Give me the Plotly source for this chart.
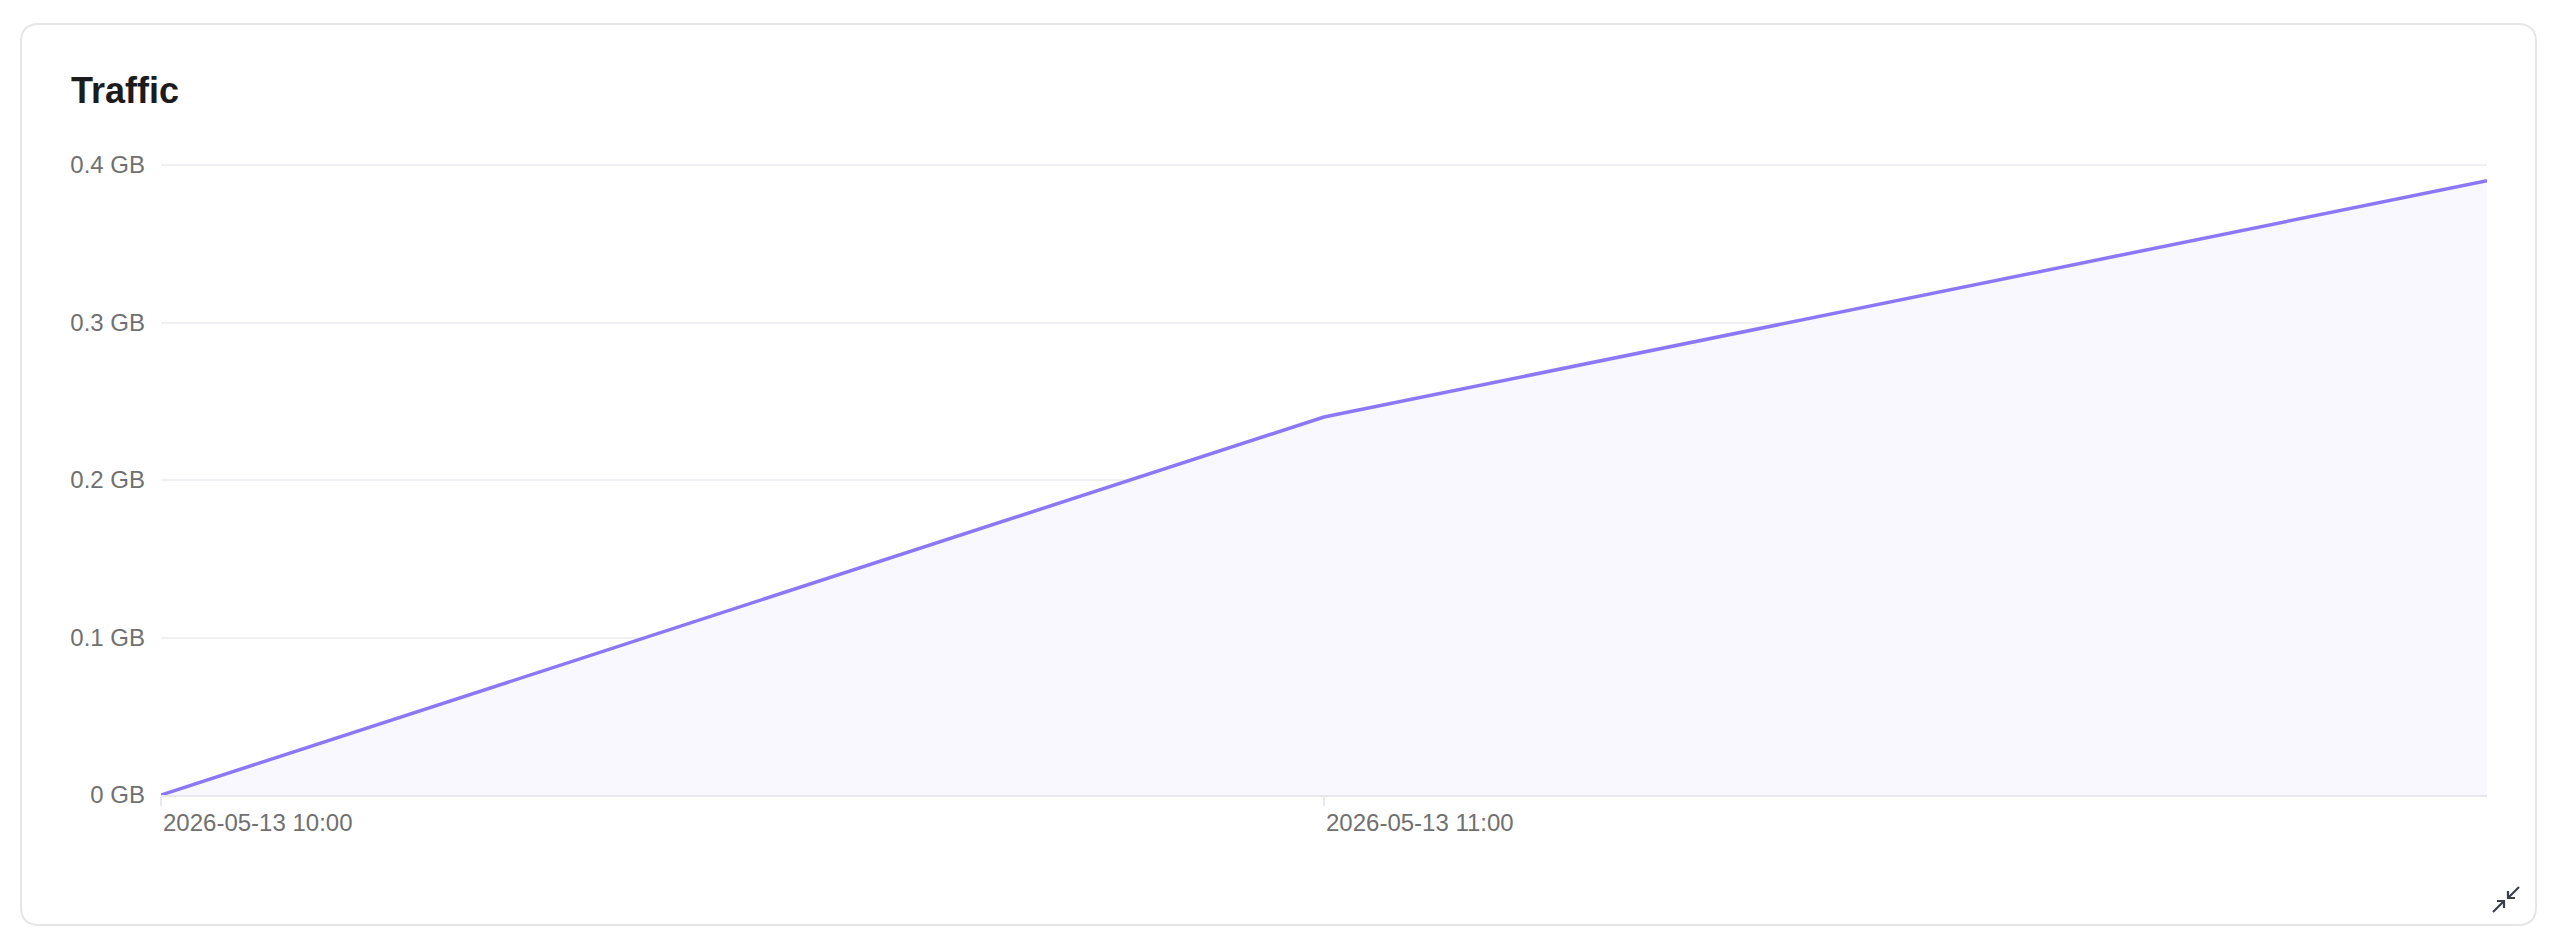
import plotly.graph_objects as go

# ---- data ----
times = ["2026-05-13 10:00", "2026-05-13 11:00", "2026-05-13 12:00"]
traffic_gb = [0.0, 0.240, 0.390]
x_tickvals = ["2026-05-13 10:00", "2026-05-13 11:00"]
y_tickvals = [0, 0.1, 0.2, 0.3, 0.4]
y_ticktext = ["0 GB", "0.1 GB", "0.2 GB", "0.3 GB", "0.4 GB"]
title_text = "Traffic"

W, H = 2556, 948
L, R, T, B = 161, 69, 160, 153
PW, PH = W - L - R, H - T - B
Y_TOP = 0.4 * PH / 630.0  # keeps 0.4 at ~630px above the baseline, leaves room for its gridline

def px(x):
    return (x - L) / PW

def py(y):
    return (H - B - y) / PH

def rounded_rect(x0, y0, x1, y1, r):
    pts = [
        f"M {px(x0 + r)} {py(y0)}",
        f"L {px(x1 - r)} {py(y0)}",
        f"Q {px(x1)} {py(y0)} {px(x1)} {py(y0 + r)}",
        f"L {px(x1)} {py(y1 - r)}",
        f"Q {px(x1)} {py(y1)} {px(x1 - r)} {py(y1)}",
        f"L {px(x0 + r)} {py(y1)}",
        f"Q {px(x0)} {py(y1)} {px(x0)} {py(y1 - r)}",
        f"L {px(x0)} {py(y0 + r)}",
        f"Q {px(x0)} {py(y0)} {px(x0 + r)} {py(y0)}",
        "Z",
    ]
    return " ".join(pts)

def polyline(points):
    return "M " + " L ".join(f"{px(a)} {py(b)}" for a, b in points)

fig = go.Figure()
fig.add_trace(go.Scatter(
    x=times, y=traffic_gb, mode="lines",
    line=dict(color="#8c78f6", width=3.5),
    fill="tozeroy", fillcolor="#f9f8fe",
    hoverinfo="skip", showlegend=False,
))

shapes = [
    dict(type="path", xref="paper", yref="paper", path=rounded_rect(21, 24, 2536, 925, 18),
         line=dict(color="#e6e6e6", width=2), fillcolor="rgba(0,0,0,0)", layer="below"),
]
icon_col = "#3a3f4a"
for pts in [
    [(2493, 912), (2504, 901)],
    [(2497, 901), (2504, 901), (2504, 908)],
    [(2519, 887), (2508, 898)],
    [(2508, 891), (2508, 898), (2515, 898)],
]:
    shapes.append(dict(type="path", xref="paper", yref="paper", path=polyline(pts),
                       line=dict(color=icon_col, width=2.2)))

fig.update_layout(
    width=W, height=H,
    margin=dict(l=L, r=R, t=T, b=B, pad=0),
    paper_bgcolor="white", plot_bgcolor="white",
    font=dict(family="Liberation Sans, Arial, sans-serif", size=24, color="#707070"),
    title=dict(text=f"<b>{title_text}</b>", x=71 / W, xanchor="left", xref="container",
               y=1 - 78 / H, yanchor="top", yref="container",
               font=dict(family="Liberation Sans, Arial, sans-serif", size=36, color="#1c1c1c")),
    shapes=shapes,
    showlegend=False,
    xaxis=dict(
        type="date", range=["2026-05-13 10:00", "2026-05-13 12:00"],
        tickvals=x_tickvals, tickformat="%Y-%m-%d %H:%M",
        ticklabelposition="outside right",
        ticklabelstandoff=5,
        showgrid=False, zeroline=False,
        showline=True, linecolor="#e8e8ee", linewidth=2,
        ticks="outside", ticklen=9, tickwidth=2, tickcolor="#e8e8ee",
        tickfont=dict(size=24, color="#707070"),
        fixedrange=True,
    ),
    yaxis=dict(
        range=[0, Y_TOP], tickvals=y_tickvals, ticktext=y_ticktext,
        showgrid=True, gridcolor="#efeff4", gridwidth=2,
        zeroline=False, showline=False, ticks="",
        ticklabelstandoff=15,
        tickfont=dict(size=24, color="#707070"),
        fixedrange=True,
    ),
)

fig.write_html("out.html", config={"displayModeBar": False})
